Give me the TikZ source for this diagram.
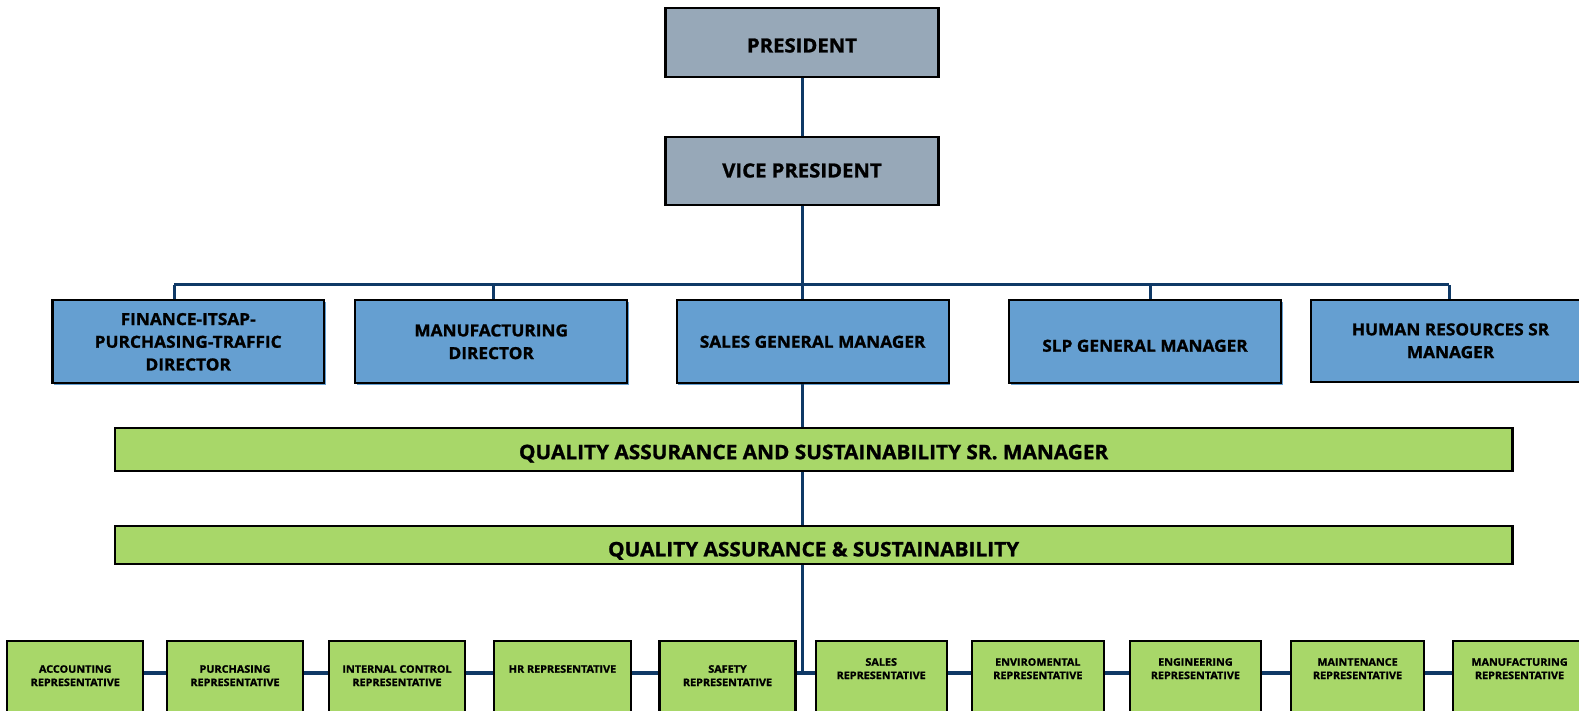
\documentclass[tikz,border=0pt]{standalone}
\usepackage{fontspec}
\setmainfont{Open Sans}[BoldFeatures={FakeBold=1.2,FakeStretch=1.04}]
\usetikzlibrary{shadows}
\definecolor{graybox}{HTML}{97A8B8}
\definecolor{bluebox}{HTML}{659FD1}
\definecolor{greenbox}{HTML}{A8D769}
\definecolor{navy}{HTML}{0F3966}
\newcommand{\lowertext}[2]{\raisebox{-#1}[\height][\depth]{#2}}
\begin{document}
\begin{tikzpicture}[x=1pt,y=-1pt,
  box/.style={draw=black, line width=2.2pt, font=\bfseries, align=center, inner sep=0pt},
  topbox/.style={box, fill=graybox, general shadow={fill=graybox, shadow xshift=1.8pt, shadow yshift=0pt}, minimum width=273pt, minimum height=68.5pt, font=\bfseries\fontsize{19.5}{23}\selectfont},
  mgrbox/.style={box, fill=bluebox, general shadow={fill=bluebox, shadow xshift=1.5pt, shadow yshift=-1.5pt}, minimum width=272pt, minimum height=83pt, font=\bfseries\fontsize{16.6}{22.7}\selectfont},
  qabox/.style={box, fill=greenbox, minimum width=1397.7pt, font=\bfseries\fontsize{20}{23}\selectfont},
  repbox/.style={box, fill=greenbox, minimum height=100pt, anchor=north},
  replabel/.style={anchor=north, font=\bfseries\fontsize{10.4}{13.3}\selectfont, align=center, inner sep=0pt},
  conn/.style={draw=navy, line width=3pt},
  repconn/.style={draw=navy, line width=4pt}]
\useasboundingbox (0,0) rectangle (1579,711);
\clip (0,0) rectangle (1579,711);

% top
\node[topbox] (pres) at (802,42.5) {\lowertext{3pt}{PRESIDENT}};
\node[topbox] (vp) at (802,171) {\lowertext{-0.5pt}{VICE PRESIDENT}};

% managers
\node[mgrbox, minimum width=271.6pt] (fin) at (188.2,341.8) {FINANCE-ITSAP-\\PURCHASING-TRAFFIC\\DIRECTOR};
\node[mgrbox] (mfg) at (491.2,341.8) {MANUFACTURING\\DIRECTOR};
\node[mgrbox] (sales) at (812.6,341.8) {SALES GENERAL MANAGER};
\node[mgrbox] (slp) at (1145,341.8) {\lowertext{4pt}{SLP GENERAL MANAGER}};
\node[mgrbox, minimum width=279pt, minimum height=81.7pt] (hr) at (1450.5,340.8) {HUMAN RESOURCES SR\\MANAGER};

% QA
\node[qabox, minimum height=43.3pt] (qasr) at (813.6,449.6) {\lowertext{4pt}{QUALITY ASSURANCE AND SUSTAINABILITY SR. MANAGER}};
\node[qabox, minimum height=38.3pt] (qas) at (813.6,544.8) {\lowertext{6pt}{QUALITY ASSURANCE \& SUSTAINABILITY}};

% representatives
\node[repbox, minimum width=136pt] (r1) at (75.3,640) {};
\node[repbox, minimum width=136pt] (r2) at (235,640) {};
\node[repbox, minimum width=136pt] (r3) at (397,640) {};
\node[repbox, minimum width=137pt] (r4) at (562.5,640) {};
\node[repbox, minimum width=136pt] (r5) at (727.5,640) {};
\node[repbox, minimum width=131pt] (r6) at (881.2,640) {};
\node[repbox, minimum width=132pt] (r7) at (1037.8,640) {};
\node[repbox, minimum width=131pt] (r8) at (1195.4,640) {};
\node[repbox, minimum width=133pt] (r9) at (1357.5,640) {};
\node[repbox, minimum width=133pt] (r10) at (1519.5,640) {};

\node[replabel] at ([yshift=-25pt]r1.north) {ACCOUNTING\\REPRESENTATIVE};
\node[replabel] at ([yshift=-25pt]r2.north) {PURCHASING\\REPRESENTATIVE};
\node[replabel] at ([yshift=-25pt]r3.north) {INTERNAL CONTROL\\REPRESENTATIVE};
\node[replabel] at ([yshift=-25pt]r4.north) {HR REPRESENTATIVE};
\node[replabel] at ([yshift=-25pt]r5.north) {SAFETY\\REPRESENTATIVE};
\node[replabel] at ([yshift=-18pt]r6.north) {SALES\\REPRESENTATIVE};
\node[replabel] at ([yshift=-18pt]r7.north) {ENVIROMENTAL\\REPRESENTATIVE};
\node[replabel] at ([yshift=-18pt]r8.north) {ENGINEERING\\REPRESENTATIVE};
\node[replabel] at ([yshift=-18pt]r9.north) {MAINTENANCE\\REPRESENTATIVE};
\node[replabel] at ([yshift=-18pt]r10.north) {MANUFACTURING\\REPRESENTATIVE};

% connectors
\coordinate (busL) at (174.2,285);
\coordinate (busR) at (1449,285);
\coordinate (dropM) at (493.4,285);
\coordinate (dropS) at (1150,285);
\coordinate (junc) at (802,673);

\draw[conn] (pres.south) -- (vp.north);
\draw[conn] (vp.south) -- (vp.south |- sales.north);
\draw[conn] (busL) -- (busR);
\draw[conn] (busL) -- (busL |- fin.north);
\draw[conn] (dropM) -- (dropM |- mfg.north);
\draw[conn] (dropS) -- (dropS |- slp.north);
\draw[conn] (busR) -- (busR |- hr.north);
\draw[conn] (vp.south |- sales.south) -- (vp.south |- qasr.north);
\draw[conn] (vp.south |- qasr.south) -- (vp.south |- qas.north);
\draw[conn] (vp.south |- qas.south) -- (junc);

\draw[repconn] (r1.east |- junc) -- (r2.west |- junc);
\draw[repconn] (r2.east |- junc) -- (r3.west |- junc);
\draw[repconn] (r3.east |- junc) -- (r4.west |- junc);
\draw[repconn] (r4.east |- junc) -- (r5.west |- junc);
\draw[repconn] (r5.east |- junc) -- (junc) -- (r6.west |- junc);
\draw[repconn] (r6.east |- junc) -- (r7.west |- junc);
\draw[repconn] (r7.east |- junc) -- (r8.west |- junc);
\draw[repconn] (r8.east |- junc) -- (r9.west |- junc);
\draw[repconn] (r9.east |- junc) -- (r10.west |- junc);
\end{tikzpicture}
\end{document}
